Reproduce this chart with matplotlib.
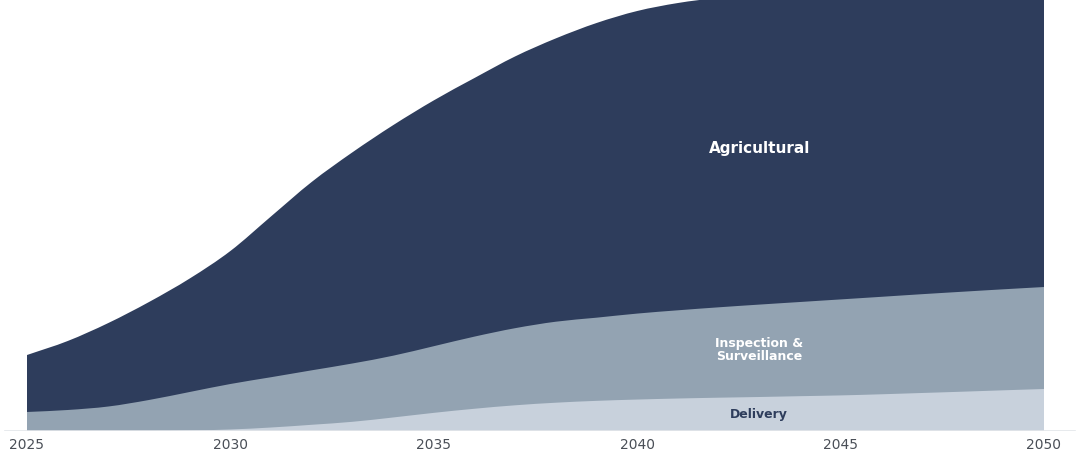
import matplotlib
matplotlib.use("Agg")
import matplotlib.pyplot as plt
from matplotlib.path import Path
from matplotlib.patches import PathPatch
import numpy as np

years = list(range(2025, 2051))
delivery = [0, 0, 0, 0, 0.12, 0.35, 0.81, 1.44, 2.13, 3.13, 4.20, 5.15, 5.95, 6.55,
            6.98, 7.28, 7.52, 7.71, 7.87, 8.06, 8.24, 8.50, 8.80, 9.10, 9.42, 9.72]
inspection = [4.40, 4.86, 5.67, 7.18, 8.91, 10.53, 11.64, 12.61, 13.50, 14.30, 15.43,
              16.70, 17.85, 18.75, 19.25, 19.90, 20.42, 20.92, 21.39, 21.80, 22.22,
              22.56, 22.87, 23.14, 23.38, 23.61]
agricultural = [13.19, 15.97, 19.33, 22.68, 26.27, 30.79, 37.23, 43.61, 48.88, 53.36,
                56.90, 59.86, 62.91, 65.58, 68.21, 70.04, 71.13, 71.67, 71.94, 72.04,
                72.04, 71.94, 71.73, 71.56, 71.30, 71.07]
series_names = ["Delivery", "Inspection &\nSurveillance", "Agricultural"]
tick_years = [2025, 2030, 2035, 2040, 2045, 2050]

colors = ["#c8d1dc", "#93a3b2", "#2e3d5c"]


def tangents(x, y):
    # Fritsch-Carlson monotone tangents
    h = np.diff(x)
    dlt = np.diff(y) / h
    m = np.zeros_like(y)
    m[0] = dlt[0]
    m[-1] = dlt[-1]
    for k in range(1, len(y) - 1):
        if dlt[k - 1] * dlt[k] <= 0:
            m[k] = 0.0
        else:
            m[k] = (dlt[k - 1] + dlt[k]) / 2
    for k in range(len(dlt)):
        if dlt[k] == 0:
            m[k] = m[k + 1] = 0.0
        else:
            a = m[k] / dlt[k]
            b = m[k + 1] / dlt[k]
            s = a * a + b * b
            if s > 9:
                t = 3 / np.sqrt(s)
                m[k] = t * a * dlt[k]
                m[k + 1] = t * b * dlt[k]
    return m


def smooth_area_path(x, top):
    x = np.asarray(x, float)
    top = np.asarray(top, float)
    m = tangents(x, top)
    verts = [(x[0], 0.0), (x[0], top[0])]
    codes = [Path.MOVETO, Path.LINETO]
    for k in range(len(x) - 1):
        h = x[k + 1] - x[k]
        verts += [(x[k] + h / 3, top[k] + m[k] * h / 3),
                  (x[k + 1] - h / 3, top[k + 1] - m[k + 1] * h / 3),
                  (x[k + 1], top[k + 1])]
        codes += [Path.CURVE4] * 3
    verts += [(x[-1], 0.0), (x[0], 0.0)]
    codes += [Path.LINETO, Path.CLOSEPOLY]
    return Path(verts, codes)


fig = plt.figure(figsize=(10.8, 4.6), dpi=100)
ax = fig.add_axes([0, 28 / 460, 1, 432 / 460])

d = np.array(delivery)
i = np.array(inspection)
a = np.array(agricultural)
cum = [d, d + i, d + i + a]
for k in [2, 1, 0]:
    ax.add_patch(PathPatch(smooth_area_path(years, cum[k]), facecolor=colors[k],
                           edgecolor="none", lw=0))

ax.set_xlim(2025 - 27 / 40.68, 2050 + 36 / 40.68)
ax.set_ylim(0, 100)

for s in ["top", "left", "right", "bottom"]:
    ax.spines[s].set_visible(False)
ax.axhline(0, xmin=5 / 1080, xmax=1075 / 1080, color="#e3e6ea", lw=1.2, zorder=5)

ax.set_yticks([])
ax.set_xticks(tick_years)
ax.set_xticklabels([str(y) for y in tick_years])
ax.tick_params(axis="x", length=0, pad=4, labelsize=10, labelcolor="#4a4f57")

lx = 2043
ax.text(lx, 65.7, series_names[2], ha="center", va="center", color="white",
        fontsize=11, fontweight="bold")
ax.text(lx, 18.9, series_names[1], ha="center", va="center", color="white",
        fontsize=9, fontweight="bold", linespacing=1.0)
ax.text(lx, 4.0, series_names[0], ha="center", va="center", color="#2e3d5c",
        fontsize=9, fontweight="bold")

fig.savefig("out.png", dpi=100)
